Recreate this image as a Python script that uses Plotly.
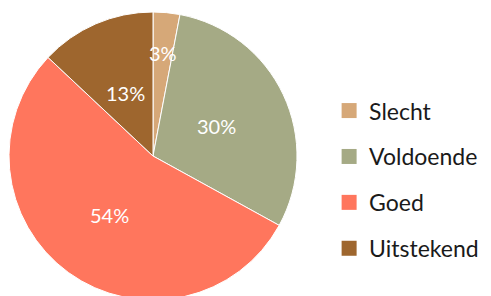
import math
import plotly.graph_objects as go

labels = ["Slecht", "Voldoende", "Goed", "Uitstekend"]
percentages = [3, 30, 54, 13]
colors = ["#D6A878", "#A5AA85", "#FF765D", "#9E662E"]

W, H = 491, 296
mt, mb, ml, mr = 4, 4, 0, 0
pw, ph = W - ml - mr, H - mt - mb
dom_x = [1 / pw, 289 / pw]
dom_y = [0, 1]

fig = go.Figure()
fig.add_trace(go.Pie(
    labels=labels, values=percentages, sort=False, direction="clockwise",
    rotation=0, marker=dict(colors=colors, line=dict(color="white", width=1)),
    textinfo="none", hoverinfo="label+percent", showlegend=False,
    domain=dict(x=dom_x, y=dom_y),
))

# legend entries
for lab, col in zip(labels, colors):
    fig.add_trace(go.Scatter(
        x=[None], y=[None], mode="markers", name=lab, legendgroup=lab,
        marker=dict(symbol="square", size=15, color=col),
    ))

# label positions computed from data
cx = (dom_x[0] + dom_x[1]) / 2
cy = 0.5
R = min(pw * (dom_x[1] - dom_x[0]), ph) / 2
label_r = [0.72, 0.49, 0.51, 0.48]
total = sum(percentages)
cum = 0
for v, fr in zip(percentages, label_r):
    mid = (cum + v / 2) / total * 2 * math.pi
    cum += v
    dx = fr * R * math.sin(mid)
    dy = fr * R * math.cos(mid)
    fig.add_annotation(
        x=cx + dx / pw, y=cy + dy / ph, xref="paper", yref="paper",
        xanchor="center", yanchor="middle",
        text=f"{round(v / total * 100)}%", showarrow=False,
        font=dict(family="Lato", size=20, color="white"),
    )

fig.update_layout(
    width=W, height=H,
    margin=dict(l=ml, r=mr, t=mt, b=mb, autoexpand=False),
    paper_bgcolor="white", plot_bgcolor="white",
    xaxis=dict(visible=False), yaxis=dict(visible=False),
    legend=dict(x=0.654, y=0.418, xanchor="left", yanchor="middle",
                font=dict(family="Lato", size=23, color="#1a1a1a"),
                tracegroupgap=13, itemwidth=30, bgcolor="rgba(0,0,0,0)"),
)
fig.write_html("out.html")
